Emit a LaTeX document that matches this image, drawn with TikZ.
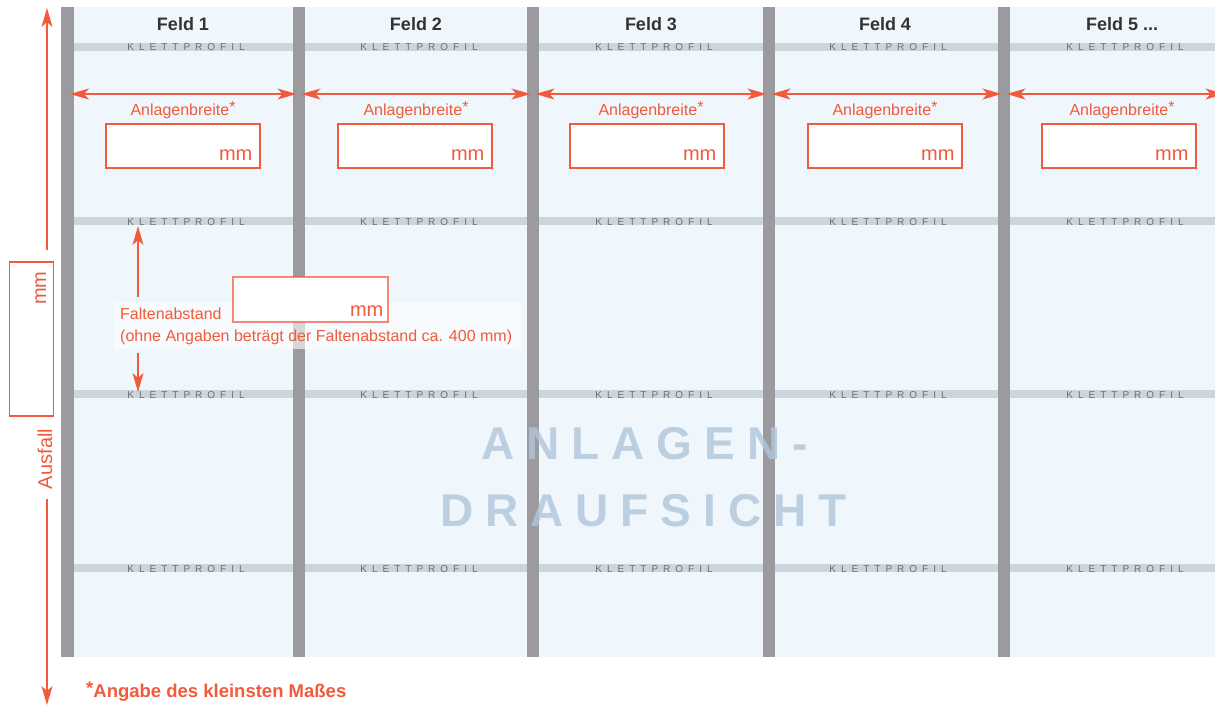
\documentclass[tikz,border=0pt]{standalone}
\usepackage{fontspec}
\setmainfont{Liberation Sans}
\usetikzlibrary{arrows.meta}
\definecolor{orng}{HTML}{F15A3A}
\definecolor{postgrey}{HTML}{9B9B9F}
\definecolor{klettgrey}{HTML}{CDD5DC}
\definecolor{klettext}{HTML}{6E6E6E}
\definecolor{panelblue}{HTML}{EFF7FD}
\definecolor{markblue}{HTML}{B0C6DB}
\definecolor{titlegrey}{HTML}{333333}
\newcommand\morefields{...}
\newcommand\minmark[1]{\raisebox{#1}{*}}
\tikzset{
  dim/.style={orng,line width=1.6pt,-{Stealth[length=19pt,width=11pt,inset=5pt]}},
  dimboth/.style={orng,line width=1.6pt,{Stealth[length=19pt,width=11pt,inset=5pt]}-{Stealth[length=19pt,width=11pt,inset=5pt]}},
  inbox/.style={draw=orng,line width=1.2pt,fill=white,minimum width=154pt,minimum height=44pt,inner sep=0pt},
  txt/.style={inner sep=0pt,anchor=base},
  fieldtitle/.style={txt,text=titlegrey,font=\fontsize{18}{20}\selectfont\bfseries},
  kletttext/.style={txt,text=klettext,font=\fontsize{10}{12}\selectfont\addfontfeature{LetterSpace=50}},
  orngtext/.style={txt,text=orng,font=\fontsize{16}{18}\selectfont},
  mmtext/.style={txt,text=orng,font=\fontsize{20}{22}\selectfont},
  watermark/.style={txt,anchor=base west,text=markblue,text opacity=0.8,font=\fontsize{46}{50}\selectfont\bfseries\addfontfeature{LetterSpace=26}}
}
\begin{document}
\begin{tikzpicture}[x=1pt,y=-1pt]
  \useasboundingbox (0,0) rectangle (1215,706);
  %% panel, klett bars and posts
  \fill[panelblue] (61,7) rectangle (1215,657);
  \foreach \y in {47,221,394,568}
    \fill[klettgrey] (61,\y-4) rectangle (1215,\y+4);
  \foreach \a/\b in {61/74,293/305,527/539,763/775,998/1010}
    \fill[postgrey] (\a,7) rectangle (\b,657);
  \foreach \x [count=\i] in {186,419,654,888,1125}
    \foreach \y [count=\j] in {47,221,394,568}
      \node[kletttext] (klett\i-\j) at (\x,\y+4) {KLETTPROFIL};
  %% field titles
  \foreach \x/\t [count=\i] in {183/Feld 1,416/Feld 2,651/Feld 3,885/Feld 4,1122/Feld 5 \morefields}
    \node[fieldtitle] (feld\i) at (\x,31) {\t};
  %% widths
  \foreach \x [count=\i] in {67.5,299,533,769,1004,1227}
    \coordinate (post\i) at (\x,94);
  \foreach \i [evaluate=\i as \j using int(\i+1)] in {1,2,3,4,5}
    \draw[dimboth] ([xshift=2.5pt]post\i) -- ([xshift=-2.5pt]post\j);
  \foreach \x/\bx [count=\i] in {183/183,416/415,651/647,885/885,1122/1119}{
    \node[orngtext] (breite\i) at (\x,116) {Anlagenbreite\minmark{3pt}};
    \node[inbox] (box\i) at (\bx,146) {};
    \node[mmtext,anchor=base east] (mm\i) at ([xshift=-8pt,yshift=8pt]box\i.south east) {mm};
  }
  %% Ausfall
  \node[inbox,rotate=90] (ausbox) at (31.5,339) {};
  \node[mmtext,rotate=90,anchor=base east] (ausmm) at ([xshift=-8pt,yshift=-10pt]ausbox.south east) {mm};
  \node[mmtext,rotate=90] (ausfall) at (52,459) {Ausfall};
  \coordinate (aus-top) at (47,8);
  \coordinate (aus-bot) at (47,705);
  \coordinate (gap-top) at (47,250);
  \coordinate (gap-bot) at (47,499);
  \draw[dim] (gap-top) -- (aus-top);
  \draw[dim] (gap-bot) -- (aus-bot);
  %% Faltenabstand
  \fill[white,fill opacity=0.6] (114,302) rectangle (521,349);
  \node[inbox,draw opacity=0.7,minimum height=45pt,minimum width=155pt] (faltbox) at (310.5,299.5) {};
  \node[mmtext,anchor=base east] (faltmm) at ([xshift=-5pt,yshift=6pt]faltbox.south east) {mm};
  \node[orngtext,anchor=base west] (falt1) at (120,319) {Faltenabstand};
  \node[orngtext,anchor=base west] (falt2) at (120,341) {(ohne Angaben beträgt der Faltenabstand ca. 400 mm)};
  \coordinate (falt-top) at (138,226);
  \coordinate (falt-bot) at (138,392);
  \coordinate (falt-a) at (138,297);
  \coordinate (falt-b) at (138,353);
  \draw[dim] (falt-a) -- (falt-top);
  \draw[dim] (falt-b) -- (falt-bot);
  %% watermark
  \node[watermark] (mark1) at (481,459) {ANLAGEN-};
  \node[watermark] (mark2) at (440,526) {DRAUFSICHT};
  %% footnote
  \node[txt,anchor=base west,text=orng,font=\fontsize{18.5}{21}\selectfont\bfseries] (note) at (86,697) {\minmark{3pt}Angabe des kleinsten Maßes};
\end{tikzpicture}
\end{document}
